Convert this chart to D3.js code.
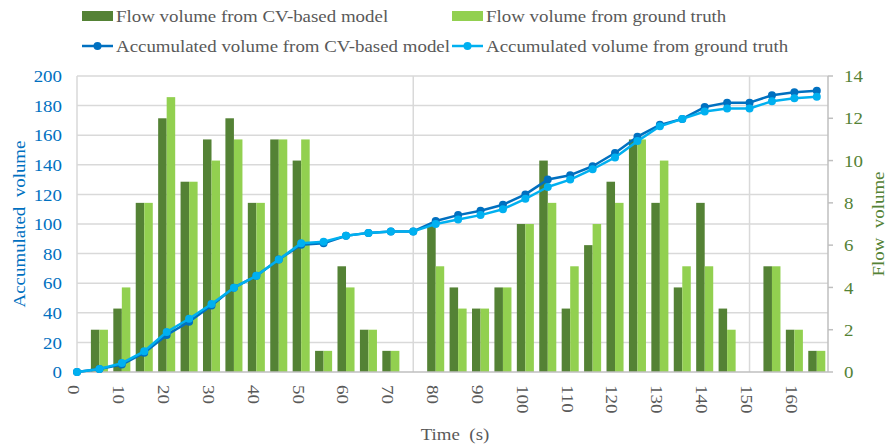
<!DOCTYPE html>
<html>
<head>
<meta charset="utf-8">
<script src="https://cdn.jsdelivr.net/npm/d3@7/dist/d3.min.js"></script>
<style>
  html, body { margin: 0; padding: 0; background: #fff; }
  svg { display: block; font-family: "Liberation Serif", "Times New Roman", serif; }
  text { white-space: pre; }
</style>
</head>
<body>
<svg id="chart" width="888" height="448"></svg>
<script>
// Time points (s), one every 5 s
const times = [0,5,10,15,20,25,30,35,40,45,50,55,60,65,70,75,80,85,90,95,100,105,110,115,120,125,130,135,140,145,150,155,160,165];
// Flow volume per interval
const flowCV = [0,2,3,8,12,9,11,12,8,11,10,1,5,2,1,0,7,4,3,4,7,10,3,6,9,11,8,4,8,3,0,5,2,1];
const flowGT = [0,2,4,8,13,9,10,11,8,11,11,1,4,2,1,0,5,3,3,4,7,8,5,7,8,11,10,5,5,2,0,5,2,1];
// Accumulated volume
const accCV = [0,2,5,13,25,34,45,57,65,76,86,87,92,94,95,95,102,106,109,113,120,130,133,139,148,159,167,171,179,182,182,187,189,190];
const accGT = [0,2,6,14,27,36,46,57,65,76,87,88,92,94,95,95,100,103,106,110,117,125,130,137,145,156,166,171,176,178,178,183,185,186];
// Axis ticks
const xTicks = [0,10,20,30,40,50,60,70,80,90,100,110,120,130,140,150,160];
const xGrid = [75,150];
const leftTicks = [0,20,40,60,80,100,120,140,160,180,200];
const rightTicks = [0,2,4,6,8,10,12,14];

const C = {
  dark: "#548235", light: "#92D050",
  lineCV: "#0070C0", lineGT: "#00B0F0",
  grid: "#D9D9D9", axis: "#BFBFBF", text: "#595959"
};
const FS = 17.5;      // font size
const SX = 1.08;      // slight horizontal widening of the serif glyphs

const svg = d3.select("#chart");
const m = { left: 77, right: 60, top: 76, bottom: 76 };
const W = 888, H = 448;
const x = d3.scaleLinear().domain([0, 167.5]).range([m.left, W - m.right]);
const yL = d3.scaleLinear().domain([0, 200]).range([H - m.bottom, m.top]);
const yR = d3.scaleLinear().domain([0, 14]).range([H - m.bottom, m.top]);
const step = x(5) - x(0);
const bw = step * 0.38;

// text helper: place at (tx,ty), rotate, widen along the reading direction
function label(parent, tx, ty, rot, str, fill, anchor, dy) {
  parent.append("text")
    .attr("transform", `translate(${tx},${ty}) rotate(${rot}) scale(${SX},1)`)
    .attr("text-anchor", anchor).attr("dy", dy)
    .attr("font-size", FS).attr("fill", fill)
    .text(str);
}

// horizontal gridlines
svg.append("g").selectAll("line").data(leftTicks.slice(1)).join("line")
  .attr("x1", m.left).attr("x2", W - m.right)
  .attr("y1", d => yL(d)).attr("y2", d => yL(d))
  .attr("stroke", C.grid).attr("stroke-width", 1.5);
// vertical gridlines
svg.append("g").selectAll("line").data(xGrid).join("line")
  .attr("x1", d => x(d)).attr("x2", d => x(d))
  .attr("y1", m.top).attr("y2", H - m.bottom)
  .attr("stroke", C.grid).attr("stroke-width", 1.5);

// bars
const bars = svg.append("g");
bars.selectAll("rect.cv").data(times.map((t, i) => ({ t, v: flowCV[i] }))).join("rect")
  .attr("class", "cv")
  .attr("x", d => x(d.t) - bw).attr("width", bw)
  .attr("y", d => yR(d.v)).attr("height", d => yR(0) - yR(d.v))
  .attr("fill", C.dark);
bars.selectAll("rect.gt").data(times.map((t, i) => ({ t, v: flowGT[i] }))).join("rect")
  .attr("class", "gt")
  .attr("x", d => x(d.t)).attr("width", bw)
  .attr("y", d => yR(d.v)).attr("height", d => yR(0) - yR(d.v))
  .attr("fill", C.light);

// axis lines
svg.append("line").attr("x1", m.left).attr("x2", W - m.right)
  .attr("y1", yL(0)).attr("y2", yL(0)).attr("stroke", C.axis).attr("stroke-width", 1.5);
svg.append("line").attr("x1", m.left).attr("x2", m.left)
  .attr("y1", m.top).attr("y2", H - m.bottom).attr("stroke", C.grid).attr("stroke-width", 1.5);
svg.append("line").attr("x1", W - m.right).attr("x2", W - m.right)
  .attr("y1", m.top).attr("y2", H - m.bottom).attr("stroke", C.axis).attr("stroke-width", 1.5);
svg.append("g").selectAll("line").data(rightTicks).join("line")
  .attr("x1", W - m.right).attr("x2", W - m.right + 5)
  .attr("y1", d => yR(d)).attr("y2", d => yR(d))
  .attr("stroke", C.axis).attr("stroke-width", 1.5);

// accumulated-volume lines with markers
function drawLine(vals, color) {
  const pts = times.map((t, i) => [x(t), yL(vals[i])]);
  const g = svg.append("g");
  g.append("path").attr("d", d3.line()(pts)).attr("fill", "none")
    .attr("stroke", color).attr("stroke-width", 2.5).attr("stroke-linejoin", "round");
  g.selectAll("circle").data(pts).join("circle")
    .attr("cx", d => d[0]).attr("cy", d => d[1]).attr("r", 4).attr("fill", color);
}
drawLine(accCV, C.lineCV);
drawLine(accGT, C.lineGT);

// tick labels
const tl = svg.append("g");
leftTicks.forEach(d => label(tl, 62, yL(d), 0, d, C.lineCV, "end", "0.35em"));
rightTicks.forEach(d => label(tl, 844, yR(d), 0, d, C.dark, "start", "0.35em"));
xTicks.forEach(d => label(tl, x(d) - 2.5, 385, 90, d, C.text, "start", "0.35em"));

// axis titles
label(svg, 25, (m.top + H - m.bottom) / 2, -90, "Accumulated  volume", C.lineCV, "middle", 0);
label(svg, 884, (m.top + H - m.bottom) / 2, -90, "Flow  volume", C.dark, "middle", 0);
label(svg, 455, 440, 0, "Time  (s)", C.text, "middle", 0);

// legend
const legend = [
  { type: "bar", color: C.dark, label: "Flow volume from CV-based model", x: 82, y: 16 },
  { type: "bar", color: C.light, label: "Flow volume from ground truth", x: 452, y: 16 },
  { type: "line", color: C.lineCV, label: "Accumulated volume from CV-based model", x: 82, y: 46 },
  { type: "line", color: C.lineGT, label: "Accumulated volume from ground truth", x: 452, y: 46 }
];
const lg = svg.append("g");
legend.forEach(d => {
  if (d.type === "bar") {
    lg.append("rect").attr("x", d.x).attr("y", d.y - 5).attr("width", 31).attr("height", 10).attr("fill", d.color);
  } else {
    lg.append("line").attr("x1", d.x).attr("x2", d.x + 31).attr("y1", d.y).attr("y2", d.y)
      .attr("stroke", d.color).attr("stroke-width", 2.5);
    lg.append("circle").attr("cx", d.x + 15.5).attr("cy", d.y).attr("r", 4).attr("fill", d.color);
  }
  label(lg, d.x + 34, d.y, 0, d.label, C.text, "start", "0.35em");
});
</script>
</body>
</html>
